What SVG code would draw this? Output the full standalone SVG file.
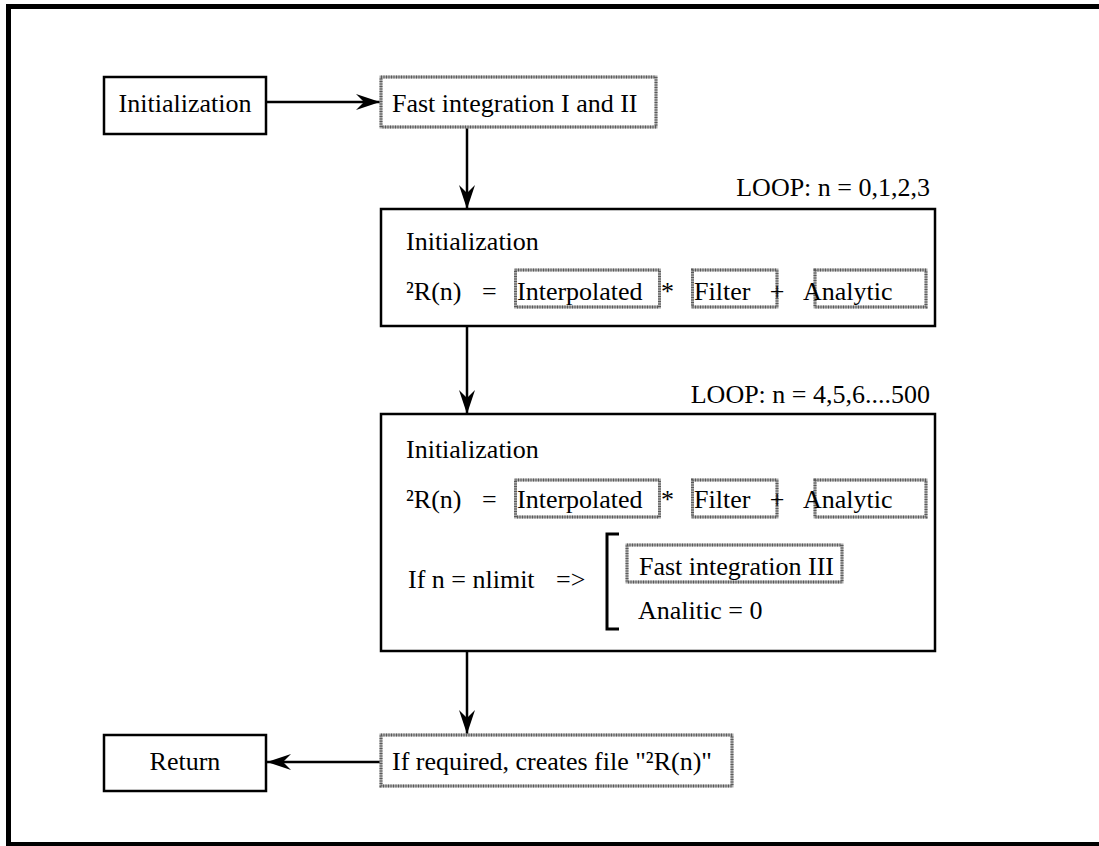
<svg xmlns="http://www.w3.org/2000/svg" width="1099" height="846" viewBox="0 0 1099 846">
<style>
text{font-family:"Liberation Serif","Times New Roman",serif;font-size:26px;fill:#000}
.box{fill:#fff;stroke:#000;stroke-width:2.5}
.tex{fill:#fff;stroke:#a8a8a8;stroke-width:3}
.texd{fill:none;stroke:#5a5a5a;stroke-width:3;stroke-dasharray:1 1.5}
.con{fill:none;stroke:#000;stroke-width:2.5}
</style>
<defs>
<marker id="ah" markerUnits="userSpaceOnUse" markerWidth="30" markerHeight="20" viewBox="-26 -10 28 20" refX="0" refY="0" orient="auto">
<path d="M0,0 L-24,-8 L-16,0 L-24,8 Z" fill="#000"/>
</marker>
</defs>
<rect x="8.5" y="6.5" width="1100" height="838" fill="#fff" stroke="#000" stroke-width="5"/>

<g id="connectors">
<line class="con" x1="266" y1="102" x2="380" y2="102" marker-end="url(#ah)"/>
<line class="con" x1="467" y1="127" x2="467" y2="209" marker-end="url(#ah)"/>
<line class="con" x1="467" y1="326" x2="467" y2="414" marker-end="url(#ah)"/>
<line class="con" x1="467" y1="651" x2="467" y2="734" marker-end="url(#ah)"/>
<line class="con" x1="381" y1="762" x2="267" y2="762" marker-end="url(#ah)"/>
</g>

<g id="init">
<rect class="box" x="104" y="77" width="162" height="57"/>
<text x="185" y="112" text-anchor="middle">Initialization</text>
</g>

<g id="fast12">
<rect class="tex" x="381" y="77" width="275" height="50"/>
<rect class="texd" x="381" y="77" width="275" height="50"/>
<text x="392" y="112">Fast integration I and II</text>
</g>

<g id="loop1">
<text x="930" y="196" text-anchor="end">LOOP: n = 0,1,2,3</text>
<rect class="box" x="381" y="209" width="554" height="117"/>
<text x="406" y="250">Initialization</text>
<text x="406" y="300">²R(n)</text>
<text x="482" y="300">=</text>
<rect class="tex" x="515.5" y="270" width="144" height="37"/>
<rect class="texd" x="515.5" y="270" width="144" height="37"/>
<text x="517" y="300">Interpolated</text>
<text x="661" y="300">*</text>
<rect class="tex" x="692.5" y="270" width="84.5" height="37"/>
<rect class="texd" x="692.5" y="270" width="84.5" height="37"/>
<text x="694" y="300">Filter</text>
<text x="777" y="300" text-anchor="middle">+</text>
<rect class="tex" x="815" y="270" width="111" height="37"/>
<rect class="texd" x="815" y="270" width="111" height="37"/>
<text x="803" y="300">Analytic</text>
</g>

<g id="loop2">
<text x="930" y="403" text-anchor="end">LOOP: n = 4,5,6....500</text>
<rect class="box" x="381" y="414" width="554" height="237"/>
<text x="406" y="458">Initialization</text>
<text x="406" y="508">²R(n)</text>
<text x="482" y="508">=</text>
<rect class="tex" x="515.5" y="480" width="144" height="37"/>
<rect class="texd" x="515.5" y="480" width="144" height="37"/>
<text x="517" y="508">Interpolated</text>
<text x="661" y="508">*</text>
<rect class="tex" x="692.5" y="480" width="84.5" height="37"/>
<rect class="texd" x="692.5" y="480" width="84.5" height="37"/>
<text x="694" y="508">Filter</text>
<text x="777" y="508" text-anchor="middle">+</text>
<rect class="tex" x="815" y="480" width="111" height="37"/>
<rect class="texd" x="815" y="480" width="111" height="37"/>
<text x="803" y="508">Analytic</text>
<text x="408" y="588">If n = nlimit</text>
<text x="556" y="588">=&gt;</text>
<path d="M619,534 H607 V629 H619" fill="none" stroke="#000" stroke-width="3"/>
<rect class="tex" x="627" y="545" width="215" height="37"/>
<rect class="texd" x="627" y="545" width="215" height="37"/>
<text x="639" y="575">Fast integration III</text>
<text x="638" y="619">Analitic = 0</text>
</g>

<g id="output">
<rect class="tex" x="381" y="735" width="351" height="51"/>
<rect class="texd" x="381" y="735" width="351" height="51"/>
<text x="392" y="770">If required, creates file "²R(n)"</text>
</g>

<g id="return">
<rect class="box" x="104" y="735" width="162" height="56"/>
<text x="185" y="770" text-anchor="middle">Return</text>
</g>
</svg>
